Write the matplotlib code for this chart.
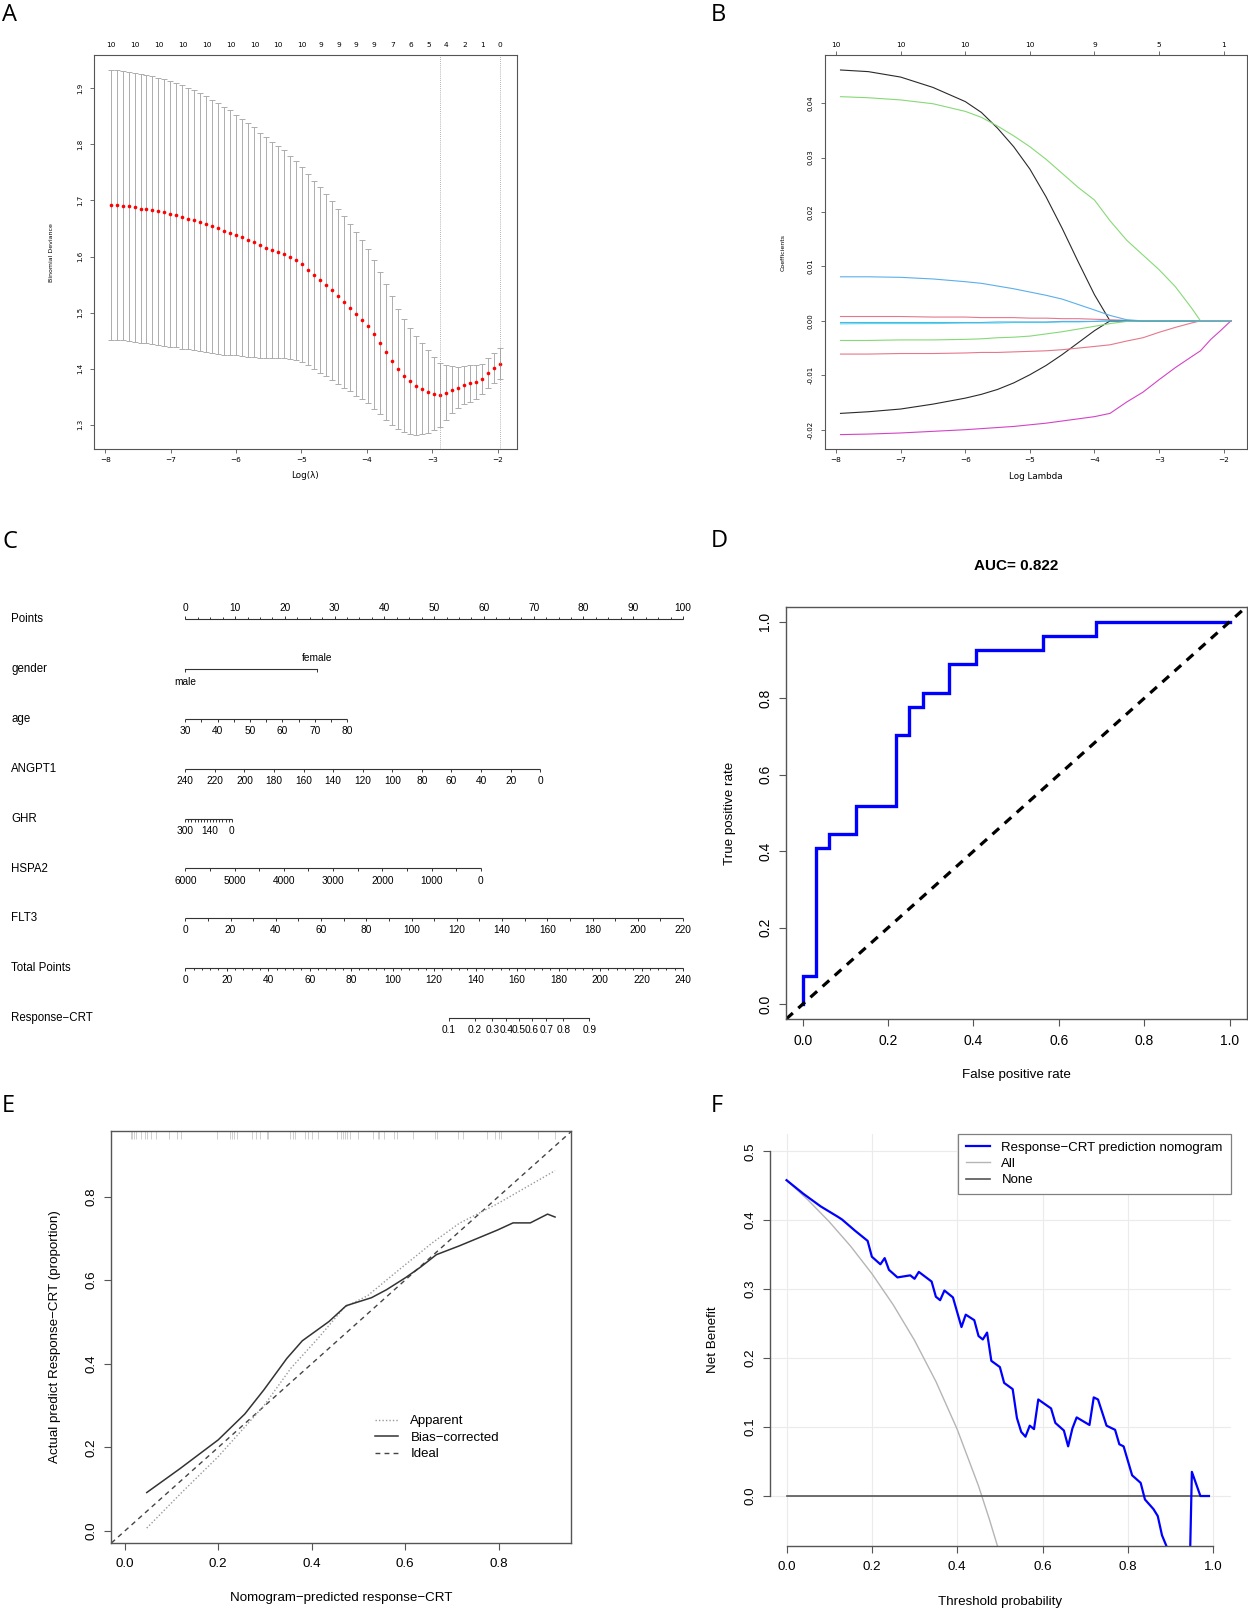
import numpy as np
import matplotlib
matplotlib.use("Agg")
import matplotlib.pyplot as plt
from matplotlib.lines import Line2D
from matplotlib.ticker import FormatStrFormatter

W, H = 1248, 1610
plt.rcParams["font.family"] = "Liberation Sans"
plt.rcParams["axes.unicode_minus"] = True
DJ = "DejaVu Sans"
BOX_C = "#555555"

# ---------------- A: cv.glmnet deviance ----------------
cv_loglam_range = (-7.92, -1.96)
cv_mean = [1.6925, 1.6919, 1.6907, 1.6895, 1.6878, 1.6854, 1.6842, 1.6824, 1.6806, 1.6788,
           1.6759, 1.6735, 1.6705, 1.6676, 1.6652, 1.6616, 1.6574, 1.6539, 1.6503, 1.6461,
           1.6426, 1.6384, 1.6342, 1.6295, 1.6253, 1.6200, 1.6158, 1.6117, 1.6075, 1.6039,
           1.5986, 1.5932, 1.5861, 1.5765, 1.5670, 1.5581, 1.5492, 1.5397, 1.5290, 1.5183,
           1.5082, 1.4972, 1.4868, 1.4758, 1.4612, 1.4452, 1.4297, 1.4143, 1.3994, 1.3875,
           1.3774, 1.3697, 1.3640, 1.3590, 1.3551, 1.3530, 1.3574, 1.3625, 1.3663, 1.3711,
           1.3735, 1.3753, 1.3822, 1.3917, 1.4004, 1.4086]
cv_se = [0.2408, 0.2408, 0.2405, 0.2402, 0.2402, 0.2399, 0.2393, 0.2390, 0.2384, 0.2378,
         0.2366, 0.2357, 0.2348, 0.2334, 0.2319, 0.2301, 0.2283, 0.2259, 0.2235, 0.2209,
         0.2182, 0.2149, 0.2117, 0.2084, 0.2051, 0.2010, 0.1971, 0.1932, 0.1891, 0.1852,
         0.1813, 0.1775, 0.1736, 0.1709, 0.1683, 0.1653, 0.1629, 0.1596, 0.1561, 0.1531,
         0.1489, 0.1457, 0.1418, 0.1373, 0.1326, 0.1269, 0.1210, 0.1145, 0.1076, 0.1011,
         0.0948, 0.0877, 0.0812, 0.0734, 0.0648, 0.0571, 0.0488, 0.0425, 0.0372, 0.0342,
         0.0327, 0.0303, 0.0268, 0.0265, 0.0268, 0.0276]
cv_top_idx = [0, 4, 8, 12, 16, 20, 24, 28, 32, 35, 38, 41, 44, 47, 50, 53, 56, 59, 62, 65]
cv_top_nzero = [10, 10, 10, 10, 10, 10, 10, 10, 10, 9, 9, 9, 9, 7, 6, 5, 4, 2, 1, 0]
cv_min_idx, cv_1se_idx = 55, 65

# ---------------- B: coefficient paths ----------------
path_loglam = [-7.93, -7.5, -7.0, -6.5, -6.0, -5.75, -5.5, -5.25, -5.0, -4.75, -4.5, -4.25,
               -4.0, -3.76, -3.5, -3.25, -3.0, -2.75, -2.5, -2.36, -2.2, -2.05, -1.89]
coef_paths = [
    [.0461, .0458, .0448, .0429, .0403, .0383, .0354, .0320, .0279, .0228, .0170, .0108,
     .0048, 0, 0, 0, 0, 0, 0, 0, 0, 0, 0],
    [.0008, .0008, .0008, .0007, .0007, .0006, .0006, .0006, .0005, .0005, .0004, .0004,
     .0003, .0002, .0001, 0, 0, 0, 0, 0, 0, 0, 0],
    [.0412, .0410, .0406, .0399, .0385, .0374, .0358, .0340, .0320, .0297, .0271, .0245,
     .0222, .0184, .0148, .0121, .0094, .0063, .0024, 0, 0, 0, 0],
    [.0081, .0081, .0080, .0077, .0072, .0069, .0064, .0059, .0053, .0047, .0040, .0030,
     .0020, .0010, .0002, 0, 0, 0, 0, 0, 0, 0, 0],
    [-.00055, -.0005, -.0005, -.0005, -.0004, -.0004, -.0004, -.0003, -.0003, -.0003, -.0002,
     -.0002, -.0001, 0, 0, 0, 0, 0, 0, 0, 0, 0, 0],
    [-.0209, -.0208, -.0206, -.0203, -.0200, -.0198, -.0196, -.0194, -.0191, -.0188, -.0184,
     -.0180, -.0176, -.0170, -.0149, -.0131, -.0108, -.0086, -.0066, -.0055, -.0034, -.0018, 0],
    [-.0170, -.0167, -.0162, -.0153, -.0142, -.0135, -.0126, -.0114, -.0099, -.0082, -.0062,
     -.0040, -.0018, 0, 0, 0, 0, 0, 0, 0, 0, 0, 0],
    [-.0061, -.0061, -.0060, -.0060, -.0059, -.0058, -.0058, -.0057, -.0056, -.0055, -.0053,
     -.0050, -.0047, -.0044, -.0037, -.0031, -.0021, -.0012, -.0004, 0, 0, 0, 0],
    [-.0036, -.0036, -.0035, -.0035, -.0034, -.0033, -.0031, -.0030, -.0028, -.0024, -.0020,
     -.0015, -.0010, -.0005, -.0001, 0, 0, 0, 0, 0, 0, 0, 0],
    [-.0003, -.0003, -.0003, -.0003, -.0003, -.0003, -.0002, -.0002, -.0002, -.0002, -.0001,
     -.0001, -.0001, 0, 0, 0, 0, 0, 0, 0, 0, 0, 0],
]
r_palette = ["#2a2a2a", "#E5788A", "#86D977", "#5AAFEB", "#4FE3E6", "#D443C6"]
path_top_ticks = [-8, -7, -6, -5, -4, -3, -2]
path_top_df = [10, 10, 10, 10, 9, 5, 1]

# ---------------- C: nomogram ----------------
nomo_rows = ["Points", "gender", "age", "ANGPT1", "GHR", "HSPA2", "FLT3", "Total Points",
             "Response\u2212CRT"]
gender_levels = ["male", "female"]
gender_points = [0, 26.4]
age_range, age_points = (30, 80), (0, 32.5)
angpt1_range, angpt1_points = (240, 0), (0, 71.3)
ghr_range, ghr_points = (300, 0), (0, 9.33)
ghr_labels = [300, 140, 0]
hspa2_range, hspa2_points = (6000, 0), (0, 59.4)
flt3_range, flt3_points = (0, 220), (0, 100)
total_range = (0, 240)
resp_probs = [0.1, 0.2, 0.3, 0.4, 0.5, 0.6, 0.7, 0.8, 0.9]
resp_total_points = [127.1, 139.5, 148.0, 154.8, 160.8, 167.2, 174.1, 182.3, 194.8]

# ---------------- D: ROC ----------------
n_neg, n_pos = 32, 27
roc_fp = [0, 0, 1, 1, 2, 2, 4, 4, 7, 7, 8, 8, 9, 9, 11, 11, 13, 13, 18, 18, 22, 22, 32]
roc_tp = [0, 2, 2, 11, 11, 12, 12, 14, 14, 19, 19, 21, 21, 22, 22, 24, 24, 25, 25, 26, 26, 27, 27]
auc_text = "AUC= 0.822"

# ---------------- E: calibration ----------------
app_x = [0.047, 0.120, 0.200, 0.298, 0.356, 0.413, 0.470, 0.520, 0.585, 0.659, 0.716, 0.798, 0.921]
app_y = [0.007, 0.090, 0.178, 0.300, 0.390, 0.460, 0.535, 0.563, 0.623, 0.690, 0.736, 0.783, 0.862]
bc_x = [0.047, 0.118, 0.200, 0.257, 0.298, 0.347, 0.380, 0.437, 0.474, 0.528, 0.560, 0.601,
        0.634, 0.667, 0.716, 0.798, 0.831, 0.868, 0.905, 0.921]
bc_y = [0.092, 0.149, 0.218, 0.280, 0.338, 0.413, 0.455, 0.501, 0.539, 0.558, 0.577, 0.606,
        0.632, 0.661, 0.682, 0.720, 0.737, 0.737, 0.758, 0.751]
rug_pred = [0.013, 0.016, 0.020, 0.025, 0.034, 0.043, 0.048, 0.056, 0.067, 0.095, 0.112, 0.120,
            0.197, 0.225, 0.229, 0.234, 0.240, 0.272, 0.281, 0.290, 0.304, 0.307, 0.354, 0.361,
            0.364, 0.386, 0.393, 0.400, 0.414, 0.454, 0.462, 0.467, 0.472, 0.475, 0.482, 0.500,
            0.532, 0.541, 0.545, 0.554, 0.576, 0.582, 0.616, 0.664, 0.668, 0.714, 0.725, 0.775,
            0.793, 0.800, 0.806, 0.884, 0.921]

# ---------------- F: decision curve ----------------
dca_thr = [0.00, 0.04, 0.08, 0.12, 0.13, 0.16, 0.19, 0.20, 0.22, 0.23, 0.24, 0.26, 0.29, 0.30,
           0.31, 0.34, 0.35, 0.36, 0.37, 0.39, 0.41, 0.42, 0.44, 0.45, 0.46, 0.47, 0.48, 0.50,
           0.51, 0.53, 0.54, 0.55, 0.56, 0.57, 0.58, 0.59, 0.62, 0.63, 0.65, 0.66, 0.67, 0.68,
           0.71, 0.72, 0.73, 0.75, 0.77, 0.78, 0.79, 0.81, 0.83, 0.84, 0.86, 0.87, 0.88, 0.89,
           0.90, 0.92, 0.94, 0.95, 0.97, 0.99]
dca_model = [0.458, 0.438, 0.420, 0.405, 0.401, 0.385, 0.370, 0.347, 0.336, 0.345, 0.328, 0.317,
             0.320, 0.315, 0.325, 0.311, 0.289, 0.284, 0.298, 0.288, 0.245, 0.263, 0.255, 0.232,
             0.227, 0.237, 0.196, 0.187, 0.164, 0.155, 0.113, 0.093, 0.086, 0.102, 0.097, 0.140,
             0.127, 0.106, 0.095, 0.072, 0.098, 0.114, 0.103, 0.143, 0.140, 0.102, 0.096, 0.075,
             0.072, 0.030, 0.019, -0.005, -0.019, -0.029, -0.057, -0.072, -0.095, -0.140, -0.250,
             0.035, 0.000, 0.000]
all_thr = [0.00, 0.05, 0.10, 0.15, 0.20, 0.25, 0.30, 0.35, 0.40, 0.45, 0.475, 0.50]
all_nb = [0.458, 0.4295, 0.3978, 0.3624, 0.3225, 0.2773, 0.2257, 0.1662, 0.0967, 0.0145,
          -0.033, -0.084]
none_thr = [0.0, 0.99]
none_nb = [0.0, 0.0]


def px_box(l, t, r, b):
    return [l / W, 1 - b / H, (r - l) / W, (b - t) / H]


def place_labels(ax, box, xlab_y=None, ylab_x=None):
    l, t, r, b = box
    if xlab_y is not None:
        ax.xaxis.label.set_va("center")
        ax.xaxis.set_label_coords(0.5, (b - xlab_y) / (b - t))
    if ylab_x is not None:
        ax.yaxis.label.set_va("center")
        ax.yaxis.set_label_coords((ylab_x - l) / (r - l), 0.5)


def r_box(ax, lw=0.9):
    for s in ax.spines.values():
        s.set_color(BOX_C)
        s.set_linewidth(lw)


def rot_yticklabels(ax):
    for t in ax.get_yticklabels():
        t.set_rotation(90)
        t.set_va("center")


fig = plt.figure(figsize=(W / 100, H / 100), dpi=100)

# ================= A =================
boxA = (94.3, 55.3, 516.7, 449.3)
axA = fig.add_axes(px_box(*boxA))
loglam = np.linspace(cv_loglam_range[0], cv_loglam_range[1], len(cv_mean))
axA.errorbar(loglam, cv_mean, yerr=cv_se, fmt="none", ecolor="#adadad",
             elinewidth=0.7, capsize=2.5, capthick=0.7)
axA.plot(loglam, cv_mean, "o", color="red", ms=2.6, mec="none")
for i in (cv_min_idx, cv_1se_idx):
    axA.axvline(loglam[i], color="#999999", ls=(0, (1, 1.5)), lw=0.6)
axA.set_xlim(-8.168, -1.709)
axA.set_ylim(1.2561, 1.9589)
axA.set_xticks(range(-8, -1))
axA.set_yticks([1.3, 1.4, 1.5, 1.6, 1.7, 1.8, 1.9])
axA.yaxis.set_major_formatter(FormatStrFormatter("%.1f"))
axA.tick_params(direction="out", length=3.2, width=0.6, color=BOX_C)
axA.tick_params(axis="x", labelsize=5.3, pad=2.5)
axA.tick_params(axis="y", labelsize=5.0, pad=5)
rot_yticklabels(axA)
axA.set_xlabel("Log(\u03bb)", fontsize=6.3, family=DJ)
axA.set_ylabel("Binomial Deviance", fontsize=4.5, family=DJ)
place_labels(axA, boxA, xlab_y=476, ylab_x=51.7)
r_box(axA, 0.8)
topA = axA.secondary_xaxis("top")
topA.set_xticks(loglam[cv_top_idx], [str(v) for v in cv_top_nzero])
topA.tick_params(length=0, labelsize=5.3, pad=5)
topA.spines["top"].set_visible(False)
for t in axA.get_xticklabels() + axA.get_yticklabels() + topA.get_xticklabels():
    t.set_fontfamily(DJ)

# ================= B =================
boxB = (825.0, 55.3, 1247.0, 449.3)
axB = fig.add_axes(px_box(*boxB))
for k, path in enumerate(coef_paths):
    axB.plot(path_loglam, path, color=r_palette[k % 6], lw=0.8)
axB.set_xlim(-8.17, -1.64)
axB.set_ylim(-0.0236, 0.0488)
axB.set_xticks(range(-8, -1))
axB.set_yticks([-0.02, -0.01, 0.0, 0.01, 0.02, 0.03, 0.04])
axB.yaxis.set_major_formatter(FormatStrFormatter("%.2f"))
axB.tick_params(direction="out", length=3.2, width=0.6, color=BOX_C)
axB.tick_params(axis="x", labelsize=5.3, pad=2.5)
axB.tick_params(axis="y", labelsize=5.0, pad=5)
rot_yticklabels(axB)
axB.set_xlabel("Log Lambda", fontsize=6.3, family=DJ)
axB.set_ylabel("Coefficients", fontsize=4.5, family=DJ)
place_labels(axB, boxB, xlab_y=476.7, ylab_x=783)
r_box(axB, 0.8)
topB = axB.secondary_xaxis("top")
topB.set_xticks(path_top_ticks, [str(v) for v in path_top_df])
topB.tick_params(direction="out", length=2.7, width=0.6, color=BOX_C, labelsize=5.3, pad=2.5)
topB.spines["top"].set_visible(False)
for t in axB.get_xticklabels() + axB.get_yticklabels() + topB.get_xticklabels():
    t.set_fontfamily(DJ)

# ================= C (nomogram) =================
boxC = (0, 560, 700, 1045)
axC = fig.add_axes(px_box(*boxC))
px_per_pt, pt0_px = 4.977, 185.3
row0_px, row_gap = 619.0, 49.9
axC.set_xlim((boxC[0] - pt0_px) / px_per_pt, (boxC[2] - pt0_px) / px_per_pt)
axC.set_ylim((boxC[3] - row0_px) / row_gap, (boxC[1] - row0_px) / row_gap)
axC.axis("off")
NC = "#333333"
TK = 3.0 / row_gap
LAB_DN = 12.0 / row_gap
LAB_UP = 10.7 / row_gap
NFS, LFS = 7.3, 8.3

for i, name in enumerate(nomo_rows):
    axC.text((11.2 - pt0_px) / px_per_pt, i, name, fontsize=LFS, ha="left", va="center")


def lin(v0, v1, p0, p1):
    return lambda v: p0 + (np.asarray(v, float) - v0) * (p1 - p0) / (v1 - v0)


def nomo_scale(row, ticks, labels, to_pts, up=False, minor=None):
    tp = to_pts(ticks)
    s = -1 if up else 1
    axC.plot([tp.min(), tp.max()], [row, row], color=NC, lw=0.8, solid_capstyle="butt")
    axC.vlines(tp, row, row + s * TK, color=NC, lw=0.7)
    if minor is not None:
        axC.vlines(to_pts(minor), row, row + s * TK * 0.5, color=NC, lw=0.7)
    for v, lab in labels:
        axC.text(float(to_pts(v)), row + (-LAB_UP if up else LAB_DN), lab,
                 fontsize=NFS, ha="center", va="center")


# Points
f_pts = lin(0, 100, 0, 100)
nomo_scale(0, np.arange(0, 101, 10), [(v, str(v)) for v in range(0, 101, 10)], f_pts,
           up=True, minor=np.arange(0, 100.1, 2.5))
# gender
axC.plot(gender_points, [1, 1], color=NC, lw=0.8)
axC.vlines(gender_points, 1, 1 + TK, color=NC, lw=0.7)
axC.text(gender_points[0], 1 + LAB_DN + 0.02, gender_levels[0], fontsize=NFS, ha="center", va="center")
axC.text(gender_points[1], 1 - LAB_UP, gender_levels[1], fontsize=NFS, ha="center", va="center")
# age
nomo_scale(2, np.arange(30, 81, 5), [(v, str(v)) for v in range(30, 81, 10)],
           lin(*age_range, *age_points))
# ANGPT1
nomo_scale(3, np.arange(240, -1, -20), [(v, str(v)) for v in range(240, -1, -20)],
           lin(*angpt1_range, *angpt1_points))
# GHR
nomo_scale(4, np.arange(300, -1, -20), [(v, str(v)) for v in ghr_labels],
           lin(*ghr_range, *ghr_points))
# HSPA2
nomo_scale(5, np.arange(6000, -1, -500), [(v, str(v)) for v in range(6000, -1, -1000)],
           lin(*hspa2_range, *hspa2_points))
# FLT3
nomo_scale(6, np.arange(0, 221, 10), [(v, str(v)) for v in range(0, 221, 20)],
           lin(*flt3_range, *flt3_points))
# Total points
f_tot = lin(*total_range, 0, 100)
nomo_scale(7, np.arange(0, 241, 20), [(v, str(v)) for v in range(0, 241, 20)], f_tot,
           minor=np.arange(0, 241, 4))
# Response-CRT
rp = f_tot(resp_total_points)
axC.plot([rp.min(), rp.max()], [8, 8], color=NC, lw=0.8)
axC.vlines(rp, 8, 8 + TK, color=NC, lw=0.7)
for p, x in zip(resp_probs, rp):
    axC.text(x, 8 + LAB_DN, f"{p:.1f}", fontsize=NFS, ha="center", va="center")

# ================= D (ROC) =================
boxD = (786, 607, 1247, 1019)
axD = fig.add_axes(px_box(*boxD))
fpr = np.array(roc_fp) / n_neg
tpr = np.array(roc_tp) / n_pos
axD.plot(fpr, tpr, color="#0000ff", lw=2.4, solid_joinstyle="miter")
axD.axline((0, 0), (1, 1), color="black", lw=2.3, dashes=(2.8, 2.3))
axD.set_xlim(-0.0394, 1.041)
axD.set_ylim(-0.039, 1.039)
axD.set_xticks(np.arange(0, 1.01, 0.2))
axD.set_yticks(np.arange(0, 1.01, 0.2))
axD.xaxis.set_major_formatter(FormatStrFormatter("%.1f"))
axD.yaxis.set_major_formatter(FormatStrFormatter("%.1f"))
axD.tick_params(direction="out", length=5, width=0.8, color=BOX_C, labelsize=10)
axD.tick_params(axis="x", pad=6)
axD.tick_params(axis="y", pad=5)
rot_yticklabels(axD)
axD.set_xlabel("False positive rate", fontsize=9.6)
axD.set_ylabel("True positive rate", fontsize=9.6)
place_labels(axD, boxD, xlab_y=1075.4, ylab_x=729.9)
axD.set_title(auc_text, fontsize=11, fontweight="bold", va="center",
              y=(1019 - 574) / (1019 - 607))
r_box(axD, 1.0)

# ================= E (calibration) =================
boxE = (111, 1130.5, 571.4, 1543)
axE = fig.add_axes(px_box(*boxE))
axE.axline((0, 0), (1, 1), color="#444444", lw=1.0, dashes=(3.5, 3))
axE.plot(app_x, app_y, color="#999999", lw=1.0, ls=(0, (1, 1.5)), label="Apparent")
axE.plot(bc_x, bc_y, color="#333333", lw=1.1, label="Bias\u2212corrected")
axE.vlines(rug_pred, 0.98, 1.0, transform=axE.get_xaxis_transform(), color="#c8c8c8", lw=0.6)
axE.set_xlim(-0.0295, 0.956)
axE.set_ylim(-0.0287, 0.958)
axE.set_xticks(np.arange(0, 0.81, 0.2))
axE.set_yticks(np.arange(0, 0.81, 0.2))
axE.xaxis.set_major_formatter(FormatStrFormatter("%.1f"))
axE.yaxis.set_major_formatter(FormatStrFormatter("%.1f"))
axE.tick_params(direction="out", length=5, width=0.8, color=BOX_C, labelsize=9.6)
axE.tick_params(axis="x", pad=6)
axE.tick_params(axis="y", pad=5)
rot_yticklabels(axE)
axE.set_xlabel("Nomogram\u2212predicted response\u2212CRT", fontsize=9.6)
axE.set_ylabel("Actual predict Response\u2212CRT (proportion)", fontsize=9.6)
place_labels(axE, boxE, xlab_y=1598.4, ylab_x=55.5)
r_box(axE, 1.0)
hE = [Line2D([], [], color="#999999", lw=1.0, ls=(0, (1, 1.5))),
      Line2D([], [], color="#333333", lw=1.1),
      Line2D([], [], color="#444444", lw=1.0, dashes=(3.5, 3))]
axE.legend(hE, ["Apparent", "Bias\u2212corrected", "Ideal"], loc="center left",
           bbox_to_anchor=(0.573, 0.255), frameon=False, fontsize=9.5, borderpad=0,
           borderaxespad=0, handlelength=1.75, handletextpad=0.95, labelspacing=0.32)

# ================= F (decision curve) =================
boxF = (769.9, 1133.7, 1230.7, 1545.8)
axF = fig.add_axes(px_box(*boxF))
axF.set_axisbelow(True)
axF.grid(True, color="#ebebeb", lw=0.8)
axF.plot(all_thr, all_nb, color="#b5b5b5", lw=1.0)
axF.plot(none_thr, none_nb, color="#555555", lw=1.2)
axF.plot(dca_thr, dca_model, color="#0000ff", lw=1.6)
axF.set_xlim(-0.039, 1.041)
axF.set_ylim(-0.0722, 0.5254)
axF.set_xticks(np.arange(0, 1.01, 0.2))
axF.set_yticks(np.arange(0, 0.51, 0.1))
axF.xaxis.set_major_formatter(FormatStrFormatter("%.1f"))
axF.yaxis.set_major_formatter(FormatStrFormatter("%.1f"))
axF.tick_params(direction="out", length=5, width=0.8, color=BOX_C, labelsize=9.6)
axF.tick_params(axis="x", pad=6)
axF.tick_params(axis="y", pad=5)
rot_yticklabels(axF)
for s in ("top", "right"):
    axF.spines[s].set_visible(False)
axF.spines["left"].set_bounds(0, 0.5)
axF.spines["bottom"].set_bounds(0, 1)
for s in ("left", "bottom"):
    axF.spines[s].set_color(BOX_C)
    axF.spines[s].set_linewidth(1.0)
axF.set_xlabel("Threshold probability", fontsize=9.6)
axF.set_ylabel("Net Benefit", fontsize=9.6)
place_labels(axF, boxF, xlab_y=1602, ylab_x=713.3)
hF = [Line2D([], [], color="#0000ff", lw=1.6),
      Line2D([], [], color="#b5b5b5", lw=1.0),
      Line2D([], [], color="#555555", lw=1.2)]
legF = axF.legend(hF, ["Response\u2212CRT prediction nomogram", "All", "None"],
                  loc="upper right", bbox_to_anchor=(1, 1), borderaxespad=0, fontsize=9.5,
                  fancybox=False, framealpha=1, edgecolor="#808080", borderpad=0.6,
                  handlelength=1.86, handletextpad=0.85, labelspacing=0.3)
legF.get_frame().set_linewidth(0.9)

# panel letters
for letter, x, y in [("A", 1.7, 15.3), ("B", 711, 15.3), ("C", 2, 542.5),
                     ("D", 711, 541), ("E", 2, 1105.6), ("F", 711, 1105.6)]:
    fig.text(x / W, 1 - y / H, letter, fontsize=17, family="Open Sans", ha="left", va="center")

fig.savefig("out.png", dpi=100)
